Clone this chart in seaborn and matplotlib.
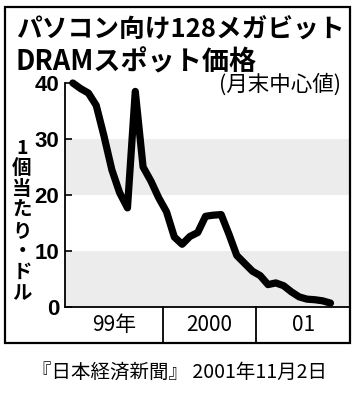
import numpy as np
import pandas as pd
import matplotlib
matplotlib.use("Agg")
import matplotlib.pyplot as plt
from matplotlib.patches import Rectangle
import seaborn as sns

# ---- data (monthly end-of-month median, $ per unit), Jan 1999 .. Oct 2001 ----
prices = [40.0, 39.0, 38.2, 36.0, 30.5, 24.5, 20.4, 17.7, 38.5, 25.0,
          22.5, 19.5, 17.0, 12.5, 11.2, 12.6, 13.3, 16.2, 16.4, 16.5,
          13.0, 9.2, 7.8, 6.4, 5.6, 4.0, 4.3, 3.8, 2.7, 1.8,
          1.4, 1.3, 1.1, 0.7]
months = list(range(len(prices)))
year_labels = ["99年", "2000", "01"]
year_lengths = [12, 12, 12]
y_ticks = [0, 10, 20, 30, 40]
title_lines = ["パソコン向け128メガビット", "DRAMスポット価格"]
subtitle = "(月末中心値)"
ylabel_chars = list("1個当たり・ドル")
source = "『日本経済新聞』 2001年11月2日"

df = pd.DataFrame({"month": months, "price": prices})

sns.set_theme(style="white")
plt.rcParams["font.family"] = ["Noto Sans CJK JP", "DejaVu Sans"]

W, H = 355, 395
fig = plt.figure(figsize=(W / 100, H / 100), dpi=100)
fig.patch.set_facecolor("white")

def fx(px):
    return px / W

def fy(py):
    return 1 - py / H

ax_left, ax_right, ax_top, ax_bot = 65, 350, 83, 307
ax = fig.add_axes([fx(ax_left), fy(ax_bot), fx(ax_right - ax_left), (ax_bot - ax_top) / H])
ax.set_facecolor("none")

# dotted (screened) bands
ax.axhspan(20, 30, color="#ececec", lw=0, zorder=0)
ax.axhspan(0, 10, color="#ececec", lw=0, zorder=0)

sns.lineplot(data=df, x="month", y="price", ax=ax, color="black", lw=5.2,
             solid_joinstyle="round", solid_capstyle="round", clip_on=False, zorder=3)

ax.set_xlim(-1.0, 35.5)
ax.set_ylim(0, 40)
ax.set_xlabel("")
ax.set_ylabel("")
ax.set_xticks([])
ax.set_yticks(y_ticks)
ax.set_yticklabels([str(t) for t in y_ticks], fontsize=16, fontweight="bold",
                   family=["Liberation Sans", "DejaVu Sans"])
ax.tick_params(axis="y", direction="in", length=5, width=1.2, pad=4, left=True, colors="black")
for s in ["top", "right"]:
    ax.spines[s].set_visible(False)
for s in ["left", "bottom"]:
    ax.spines[s].set_visible(True)
    ax.spines[s].set_color("black")
    ax.spines[s].set_linewidth(1.3)

# year row: dividers and labels under the axis
row_h = (343 - ax_bot) / (ax_bot - ax_top)
start = -1.0
edges = [start]
pos = -0.5
for n in year_lengths:
    pos += n
    edges.append(pos)
for i, lab in enumerate(year_labels):
    lo = edges[i] if i > 0 else start
    hi = min(edges[i + 1], 35.5)
    ax.text((lo + hi) / 2, -row_h / 2, lab, transform=ax.get_xaxis_transform(),
            ha="center", va="center", fontsize=15, color="black")
for e in edges[1:-1]:
    ax.axvline(e, ymin=-row_h, ymax=0, color="black", lw=1.3, clip_on=False)

# outer frame
fig.patches.append(Rectangle((fx(5), fy(343)), fx(345), (343 - 7) / H,
                             transform=fig.transFigure, fill=False,
                             edgecolor="black", lw=1.6))

# titles
fig.text(fx(16), fy(30), title_lines[0], ha="left", va="center", fontsize=18.5,
         fontweight="bold", color="black")
fig.text(fx(16), fy(62), title_lines[1], ha="left", va="center", fontsize=19.5,
         fontweight="bold", color="black")
fig.text(fx(341), fy(85), subtitle, ha="right", va="center", fontsize=15.5, color="black")

# vertical y label
y0, step = 148, 20.8
for k, ch in enumerate(ylabel_chars):
    fig.text(fx(22), fy(y0 + k * step), ch, ha="center", va="center",
             fontsize=14, fontweight="bold", color="black")

# source line
fig.text(fx(179), fy(372), source, ha="center", va="center", fontsize=14, color="black")

fig.savefig("out.png", dpi=100, facecolor="white")
